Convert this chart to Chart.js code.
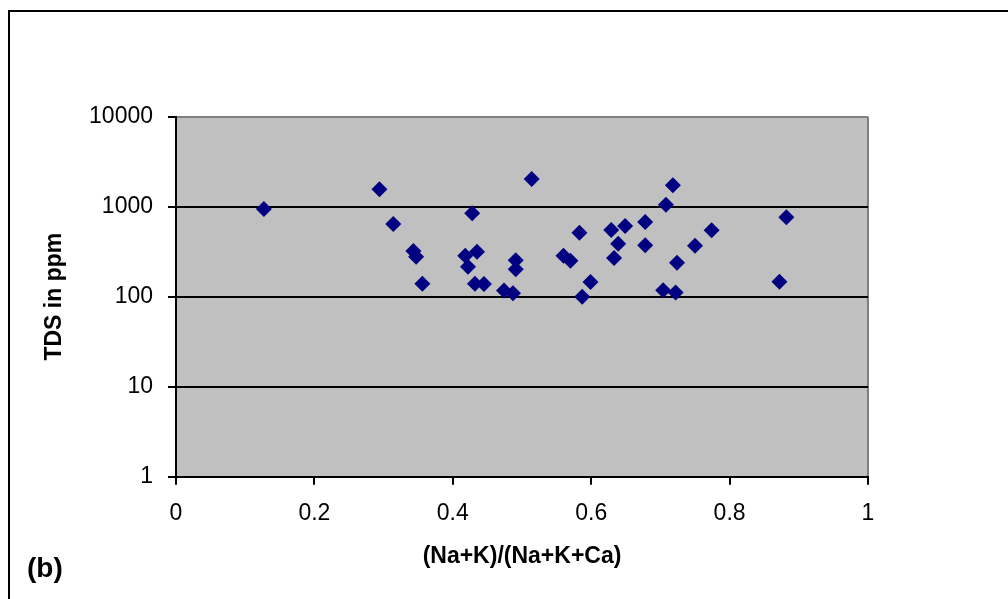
<!DOCTYPE html>
<html>
<head>
<meta charset="utf-8">
<script src="https://cdn.jsdelivr.net/npm/chart.js@4/dist/chart.umd.min.js"></script>
<style>
  html, body { margin: 0; padding: 0; background: #fff; }
  canvas { display: block; }
</style>
</head>
<body>
<canvas id="c" width="1008" height="599"></canvas>
<script>
// Data
const ratioValues = [0.127, 0.294, 0.314, 0.343, 0.347, 0.356, 0.428, 0.435, 0.418, 0.422, 0.432, 0.445, 0.474, 0.487, 0.491, 0.491,
                     0.514, 0.583, 0.560, 0.570, 0.587, 0.599, 0.629, 0.649, 0.639, 0.633, 0.678, 0.678, 0.708, 0.718, 0.704, 0.722, 0.724, 0.750, 0.774, 0.872, 0.882];
const tdsValues   = [942, 1561, 642, 322, 278, 139, 845, 316, 286, 215, 139, 138, 117, 109, 254, 202,
                     2032, 514, 285, 251, 100, 146, 551, 611, 388, 269, 676, 373, 1052, 1727, 118, 111, 239, 369, 546, 147, 762];
const yTickValues = [1, 10, 100, 1000, 10000];
const xTickValues = [0, 0.2, 0.4, 0.6, 0.8, 1];
const xTitle = '(Na+K)/(Na+K+Ca)';
const yTitle = 'TDS in ppm';
const panelLabel = '(b)';

const points = ratioValues.map((x, i) => ({ x: x, y: tdsValues[i] }));

const FONT = '"Liberation Sans", Arial, sans-serif';

const frame = {
  id: 'frame',
  beforeDraw(chart) {
    const ctx = chart.ctx;
    const a = chart.chartArea;
    ctx.save();
    ctx.fillStyle = '#ffffff';
    ctx.fillRect(0, 0, chart.width, chart.height);
    ctx.fillStyle = '#c0c0c0';
    ctx.fillRect(a.left, a.top, a.right - a.left, a.bottom - a.top);
    ctx.restore();
  },
  afterDraw(chart) {
    const ctx = chart.ctx;
    ctx.save();
    ctx.strokeStyle = '#000';
    ctx.lineWidth = 2;
    ctx.strokeRect(9, 11, 1010, 600);
    ctx.fillStyle = '#000';
    ctx.font = 'bold 28px ' + FONT;
    ctx.textBaseline = 'alphabetic';
    ctx.textAlign = 'left';
    ctx.fillText(panelLabel, 27, 577);
    ctx.restore();
  }
};

new Chart(document.getElementById('c'), {
  type: 'scatter',
  data: {
    datasets: [{
      data: points,
      pointStyle: 'rectRot',
      pointRadius: 8,
      pointHoverRadius: 8,
      backgroundColor: '#000080',
      borderColor: '#000080',
      borderWidth: 0
    }]
  },
  options: {
    responsive: false,
    animation: false,
    events: [],
    layout: { padding: { left: 0, top: 116.7, right: 140, bottom: 0 } },
    plugins: { legend: { display: false }, tooltip: { enabled: false } },
    scales: {
      x: {
        type: 'linear',
        min: 0, max: 1,
        afterBuildTicks: (s) => { s.ticks = xTickValues.map(v => ({ value: v })); },
        afterFit: (s) => { s.height = 599 - 476.7; },
        ticks: {
          color: '#000',
          padding: 15,
          font: { family: FONT, size: 23 },
          callback: (v) => String(Number(v.toFixed(1)))
        },
        grid: {
          drawOnChartArea: true,
          color: (c) => (c.tick && c.tick.value === 1) ? '#808080' : 'rgba(0,0,0,0)',
          tickColor: '#000',
          lineWidth: 2,
          tickWidth: 2,
          tickLength: 8
        },
        border: { display: true, color: '#000', width: 2 },
        title: {
          display: true,
          text: xTitle,
          color: '#000',
          font: { family: FONT, size: 23, weight: 'bold' },
          padding: { top: 0, bottom: 29 }
        }
      },
      y: {
        type: 'logarithmic',
        min: 1, max: 10000,
        afterBuildTicks: (s) => { s.ticks = yTickValues.map(v => ({ value: v })); },
        afterFit: (s) => { s.width = 176; },
        ticks: {
          color: '#000',
          padding: 15,
          font: { family: FONT, size: 23 },
          callback: (v) => String(v)
        },
        grid: {
          color: (c) => (c.tick && c.tick.value === 10000) ? '#808080' : '#000',
          tickColor: '#000',
          lineWidth: 2,
          tickWidth: 2,
          tickLength: 8
        },
        border: { display: true, color: '#000', width: 2 },
        title: {
          display: true,
          text: yTitle,
          color: '#000',
          font: { family: FONT, size: 23, weight: 'bold' },
          padding: { top: 41, bottom: 0 }
        }
      }
    }
  },
  plugins: [frame]
});
</script>
</body>
</html>
